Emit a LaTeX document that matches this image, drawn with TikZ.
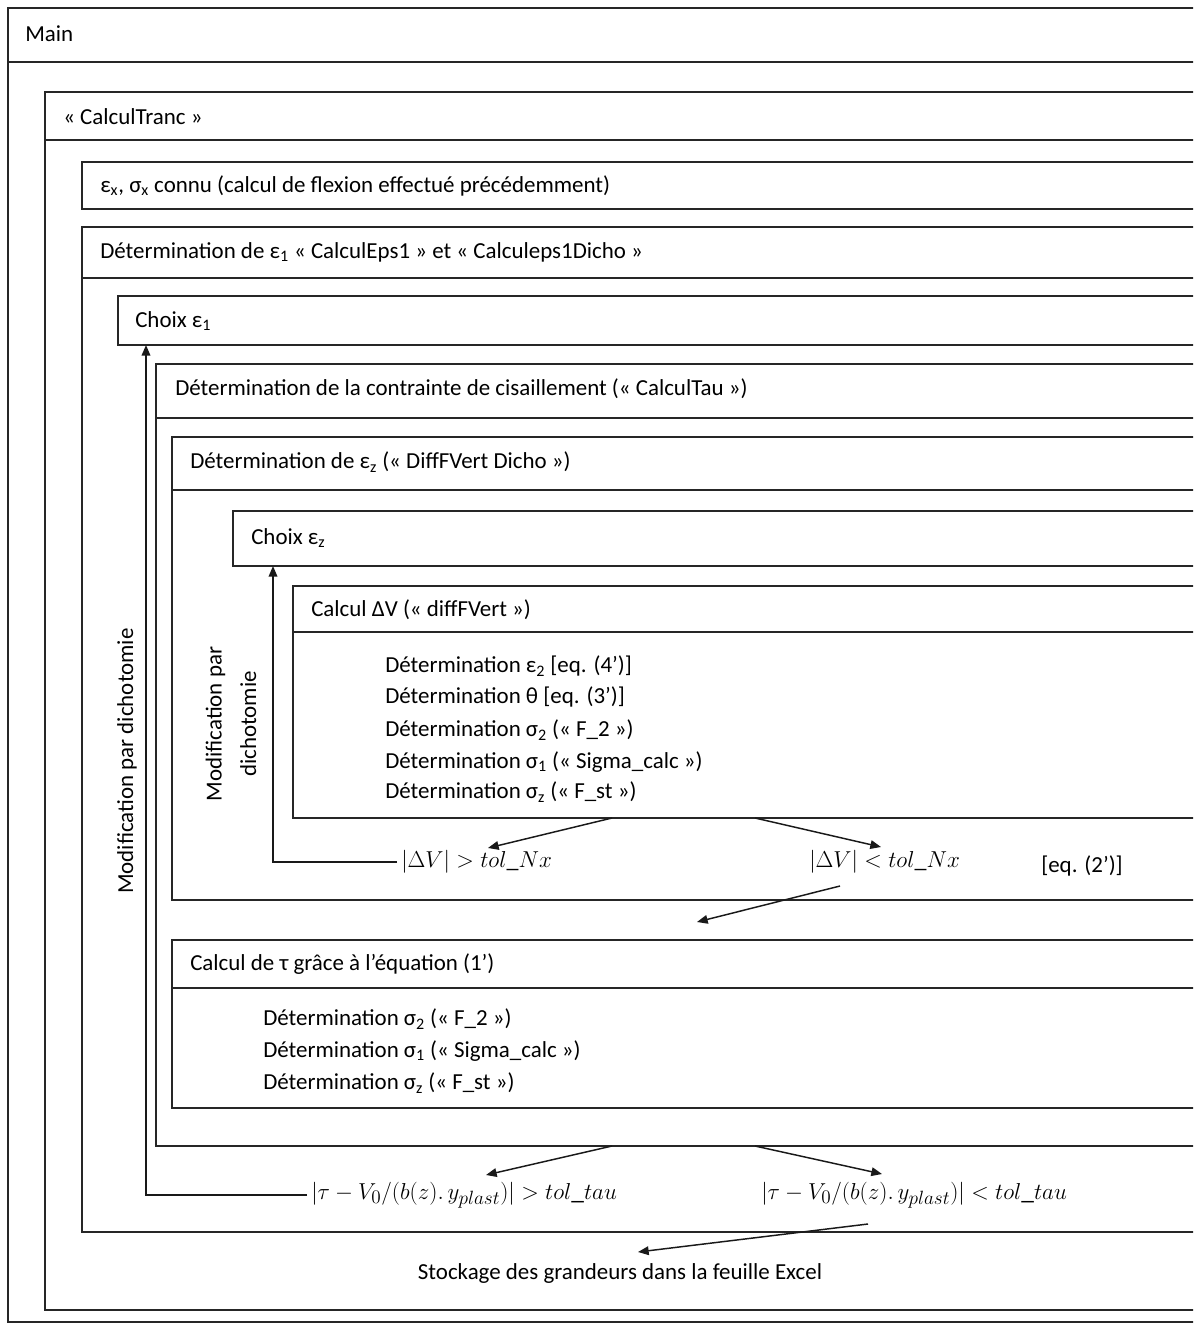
\documentclass[tikz,border=0pt]{standalone}
\usepackage{fontspec}
\setmainfont{Carlito}
\usetikzlibrary{arrows.meta,fit}
\tikzset{
  box/.style={draw=black!85, line width=1pt, inner sep=0pt},
  hline/.style={draw=black!85, line width=1pt},
  lbl/.style={anchor=west, inner sep=0pt},
  cond/.style={anchor=west, inner sep=3pt, font=\fontsize{18}{21}\selectfont},
  arr/.style={draw=black!90, line width=1.1pt, -{Triangle[length=8pt,width=6.5pt]}},
}
\begin{document}
\begin{tikzpicture}[x=0.75pt,y=-0.75pt,font=\fontsize{17.2}{20}\selectfont]
\useasboundingbox (0,0) rectangle (1193,1331);
\clip (0,0) rectangle (1193,1331);

% boxes
\node[box, fit={(8,8)(1230,1322)}] (main) {};
\draw[hline] (8,62) -- (1230,62);
\node[lbl] (tmain) at (25,34) {Main};

\node[box, fit={(45,92)(1230,1310)}] (tranc) {};
\draw[hline] (45,140) -- (1230,140);
\node[lbl] (ttranc) at (63,117) {« CalculTranc »};

\node[box, fit={(82,162)(1230,209)}] (connu) {};
\node[lbl] (tconnu) at (100,186) {ε\textsubscript{x}, σ\textsubscript{x} connu (calcul de flexion effectué précédemment)};

\node[box, fit={(82,227)(1230,1232)}] (eps1) {};
\draw[hline] (82,278) -- (1230,278);
\node[lbl] (teps1) at (100,252) {Détermination de ε\textsubscript{1} « CalculEps1 » et « Calculeps1Dicho »};

\node[box, fit={(118,296)(1230,345)}] (choix1) {};
\node[lbl] (tchoix1) at (135,321) {Choix ε\textsubscript{1}};

\node[box, fit={(156,364)(1230,1146)}] (cisa) {};
\draw[hline] (156,418) -- (1230,418);
\node[lbl] (tcisa) at (175,389) {Détermination de la contrainte de cisaillement (« CalculTau »)};

\node[box, fit={(172,437)(1230,900)}] (eps2) {};
\draw[hline] (172,490) -- (1230,490);
\node[lbl] (teps2) at (190,462) {Détermination de ε\textsubscript{z} (« DiffFVert Dicho »)};

\node[box, fit={(233,511)(1230,566)}] (choix2) {};
\node[lbl] (tchoix2) at (251,538) {Choix ε\textsubscript{z}};

\node[box, fit={(293,586)(1230,818)}] (dv) {};
\draw[hline] (293,632) -- (1230,632);
\node[lbl] (tdv) at (311,610) {Calcul ΔV (« diffFVert »)};
\node[lbl] (dv1) at (385,666) {Détermination ε\textsubscript{2} [eq. (4’)]};
\node[lbl] (dv2) at (385,697) {Détermination θ [eq. (3’)]};
\node[lbl] (dv3) at (385,730) {Détermination σ\textsubscript{2} (« F\_2 »)};
\node[lbl] (dv4) at (385,762) {Détermination σ\textsubscript{1} (« Sigma\_calc »)};
\node[lbl] (dv5) at (385,792) {Détermination σ\textsubscript{z} (« F\_st »)};

\node[box, fit={(172,940)(1230,1108)}] (tau) {};
\draw[hline] (172,988) -- (1230,988);
\node[lbl] (ttau) at (190,964) {Calcul de τ grâce à l’équation (1’)};
\node[lbl] (tau1) at (263,1019) {Détermination σ\textsubscript{2} (« F\_2 »)};
\node[lbl] (tau2) at (263,1051) {Détermination σ\textsubscript{1} (« Sigma\_calc »)};
\node[lbl] (tau3) at (263,1083) {Détermination σ\textsubscript{z} (« F\_st »)};

% conditions
\node[cond] (gt1) at (397,862) {$|\Delta V| > tol\_Nx$};
\node[cond] (lt1) at (805,862) {$|\Delta V| < tol\_Nx$};
\node[lbl] (eq2) at (1041,866) {[eq. (2’)]};

\node[cond, font=\fontsize{19}{22}\selectfont] (gt2) at (307,1195) {$\Bigl|\tau - V_0/(b(z).\,y_{plast})\Bigr| > tol\_tau$};
\node[cond, font=\fontsize{19}{22}\selectfont] (lt2) at (757,1195) {$\Bigl|\tau - V_0/(b(z).\,y_{plast})\Bigr| < tol\_tau$};

\node[anchor=center, inner sep=0pt] (stock) at (620,1273) {Stockage des grandeurs dans la feuille Excel};

% rotated labels
\node[rotate=90, inner sep=0pt] (mod1) at (127,761) {Modification par dichotomie};
\node[rotate=90, align=center, inner sep=0pt, font=\fontsize{17.2}{26}\selectfont] (mod2) at (231,724) {Modification par\\dichotomie};

% arrow coordinates
\coordinate (a1s) at (612,818);
\coordinate (a1e) at (488,848);
\coordinate (a2s) at (755,818);
\coordinate (a2e) at (881,847);
\coordinate (a3s) at (840,886);
\coordinate (a3e) at (697,922);
\coordinate (a4s) at (612,1146);
\coordinate (a4e) at (486,1175);
\coordinate (a5s) at (755,1146);
\coordinate (a5e) at (882,1174);
\coordinate (a6s) at (868,1224);
\coordinate (a6e) at (638,1252);
\coordinate (fb1) at (273,566);
\coordinate (fb2) at (146,345);

\draw[arr] (a1s) -- (a1e);
\draw[arr] (a2s) -- (a2e);
\draw[arr] (a3s) -- (a3e);
\draw[arr] (a4s) -- (a4e);
\draw[arr] (a5s) -- (a5e);
\draw[arr] (a6s) -- (a6e);
\draw[arr] (gt1.west) -| (fb1);
\draw[arr] (gt2.west) -| (fb2);
\end{tikzpicture}
\end{document}
